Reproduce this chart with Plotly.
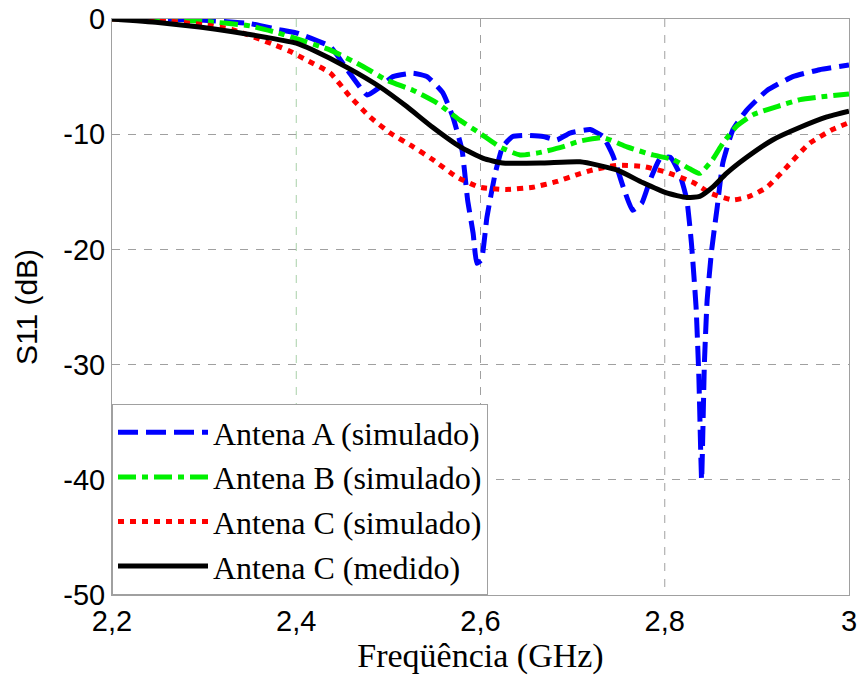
import plotly.graph_objects as go

# Antena A (simulado)
xa = [2.20, 2.25, 2.30, 2.35, 2.38, 2.40, 2.437, 2.458, 2.477, 2.491, 2.505, 2.527, 2.542, 2.559, 2.570,
      2.580, 2.586, 2.592, 2.596, 2.601, 2.607, 2.616, 2.624, 2.635, 2.650, 2.668, 2.683, 2.697, 2.719,
      2.733, 2.744, 2.755, 2.765, 2.775, 2.784, 2.795, 2.806, 2.816, 2.824, 2.829, 2.834, 2.837, 2.840,
      2.843, 2.846, 2.851, 2.857, 2.863, 2.874, 2.889, 2.911, 2.939, 2.968, 3.0]
ya = [0, 0, -0.1, -0.4, -0.9, -1.2, -2.4, -4.7, -6.6, -5.9, -5.0, -4.7, -5.0, -6.4, -8.5,
      -11.4, -15.7, -18.6, -21.2, -20.9, -17.2, -13.4, -11.1, -10.2, -10.1, -10.2, -10.5, -9.9, -9.6,
      -10.2, -11.9, -14.6, -16.6, -16.0, -14.0, -12.1, -12.0, -13.4, -15.7, -19.5, -25.0, -31.0, -40.0,
      -30.0, -24.4, -20.0, -16.3, -12.5, -9.6, -7.9, -6.2, -5.0, -4.4, -4.0]

# Antena B (simulado)
xb = [2.2, 2.25, 2.30, 2.35, 2.38, 2.396, 2.437, 2.472, 2.498, 2.527, 2.553, 2.578, 2.599, 2.621, 2.643,
      2.664, 2.689, 2.708, 2.733, 2.759, 2.787, 2.809, 2.827, 2.838, 2.852, 2.863, 2.878, 2.896, 2.922,
      2.947, 2.976, 3.0]
yb = [0, 0, -0.2, -0.6, -1.2, -1.6, -2.7, -4.1, -5.3, -6.2, -7.3, -8.8, -9.9, -11.1, -11.8,
      -11.6, -11.1, -10.6, -10.3, -11.1, -11.8, -12.2, -13.0, -13.4, -12.2, -10.8, -9.3, -8.3, -7.6,
      -7.0, -6.7, -6.5]

# Antena C (simulado)
xc = [2.2, 2.25, 2.30, 2.33, 2.375, 2.393, 2.412, 2.437, 2.458, 2.480, 2.502, 2.527, 2.548, 2.574, 2.599,
      2.628, 2.657, 2.683, 2.705, 2.722, 2.748, 2.776, 2.802, 2.831, 2.849, 2.874, 2.892, 2.911, 2.933,
      2.957, 2.982, 3.0]
yc = [0, -0.1, -0.5, -0.9, -2.2, -2.8, -3.6, -4.7, -6.7, -8.5, -9.9, -11.1, -12.2, -13.7, -14.6,
      -14.8, -14.6, -14.1, -13.5, -13.1, -12.7, -12.8, -13.3, -14.2, -15.1, -15.7, -15.4, -14.6, -12.8,
      -10.8, -9.6, -9.0]

# Antena C (medido)
xm = [2.2, 2.25, 2.295, 2.331, 2.368, 2.40, 2.418, 2.455, 2.491, 2.520, 2.548, 2.578, 2.603, 2.624,
      2.668, 2.708, 2.748, 2.776, 2.802, 2.824, 2.838, 2.852, 2.867, 2.889, 2.917, 2.947, 2.976, 3.0]
ym = [0, -0.3, -0.7, -1.1, -1.6, -2.1, -2.7, -4.2, -5.9, -7.6, -9.4, -11.1, -12.1, -12.5,
      -12.5, -12.4, -13.1, -14.2, -15.1, -15.5, -15.4, -14.6, -13.4, -12.0, -10.5, -9.4, -8.5, -8.0]

xticks = [2.2, 2.4, 2.6, 2.8, 3.0]
xticklabels = ["2,2", "2,4", "2,6", "2,8", "3"]
yticks = [0, -10, -20, -30, -40, -50]
yticklabels = ["0", "-10", "-20", "-30", "-40", "-50"]

fig = go.Figure()
fig.add_trace(go.Scatter(x=xa, y=ya, mode="lines", name="Antena A (simulado)",
                         line=dict(color="#0000FF", width=5, dash="20px,8px", shape="spline", smoothing=0.4)))
fig.add_trace(go.Scatter(x=xb, y=yb, mode="lines", name="Antena B (simulado)",
                         line=dict(color="#00F000", width=5, dash="18px,6px,6px,6px", shape="spline", smoothing=0.5)))
fig.add_trace(go.Scatter(x=xc, y=yc, mode="lines", name="Antena C (simulado)",
                         line=dict(color="#FF0000", width=5, dash="6px,6px", shape="spline", smoothing=0.5)))
fig.add_trace(go.Scatter(x=xm, y=ym, mode="lines", name="Antena C (medido)",
                         line=dict(color="#000000", width=5, shape="spline", smoothing=0.5)))

# vertical grid lines at the inner x ticks (the first one is greenish in the original)
gridcolors = ["#a8d0a8", "#a0a0a0", "#a0a0a0"]
for xv, gc in zip(xticks[1:-1], gridcolors):
    fig.add_shape(type="line", xref="x", yref="paper", x0=xv, x1=xv, y0=1, y1=0,
                  line=dict(color=gc, width=1, dash="8px,8px"), layer="below")

fig.update_layout(
    width=866, height=676,
    margin=dict(l=112, r=17, t=19, b=81),
    paper_bgcolor="white", plot_bgcolor="white",
    showlegend=True,
    legend=dict(x=0, y=0, xanchor="left", yanchor="bottom",
                bgcolor="white", bordercolor="#a0a0a0", borderwidth=1,
                font=dict(family="Liberation Serif", size=32, color="black"),
                itemwidth=90, tracegroupgap=0),
    xaxis=dict(range=[2.2, 3.0], tickvals=xticks, ticktext=xticklabels, automargin=False,
               showgrid=False,
               showline=True, linecolor="#a0a0a0", mirror=True, zeroline=False,
               ticks="", tickfont=dict(family="Liberation Sans", size=29, color="black"),
               title=dict(text="Freqüência (GHz)", font=dict(family="Liberation Serif", size=34, color="black"),
                          standoff=2)),
    yaxis=dict(range=[-50, 0], tickvals=yticks, ticktext=yticklabels, automargin=False,
               showgrid=True, gridcolor="#a0a0a0", griddash="8px,8px", gridwidth=1,
               showline=True, linecolor="#a0a0a0", mirror=True, zeroline=False,
               ticks="", tickfont=dict(family="Liberation Sans", size=29, color="black"),
               title=dict(text="S11 (dB)", font=dict(family="Liberation Sans", size=30, color="black"),
                          standoff=16)),
)

fig.write_html("out.html")
